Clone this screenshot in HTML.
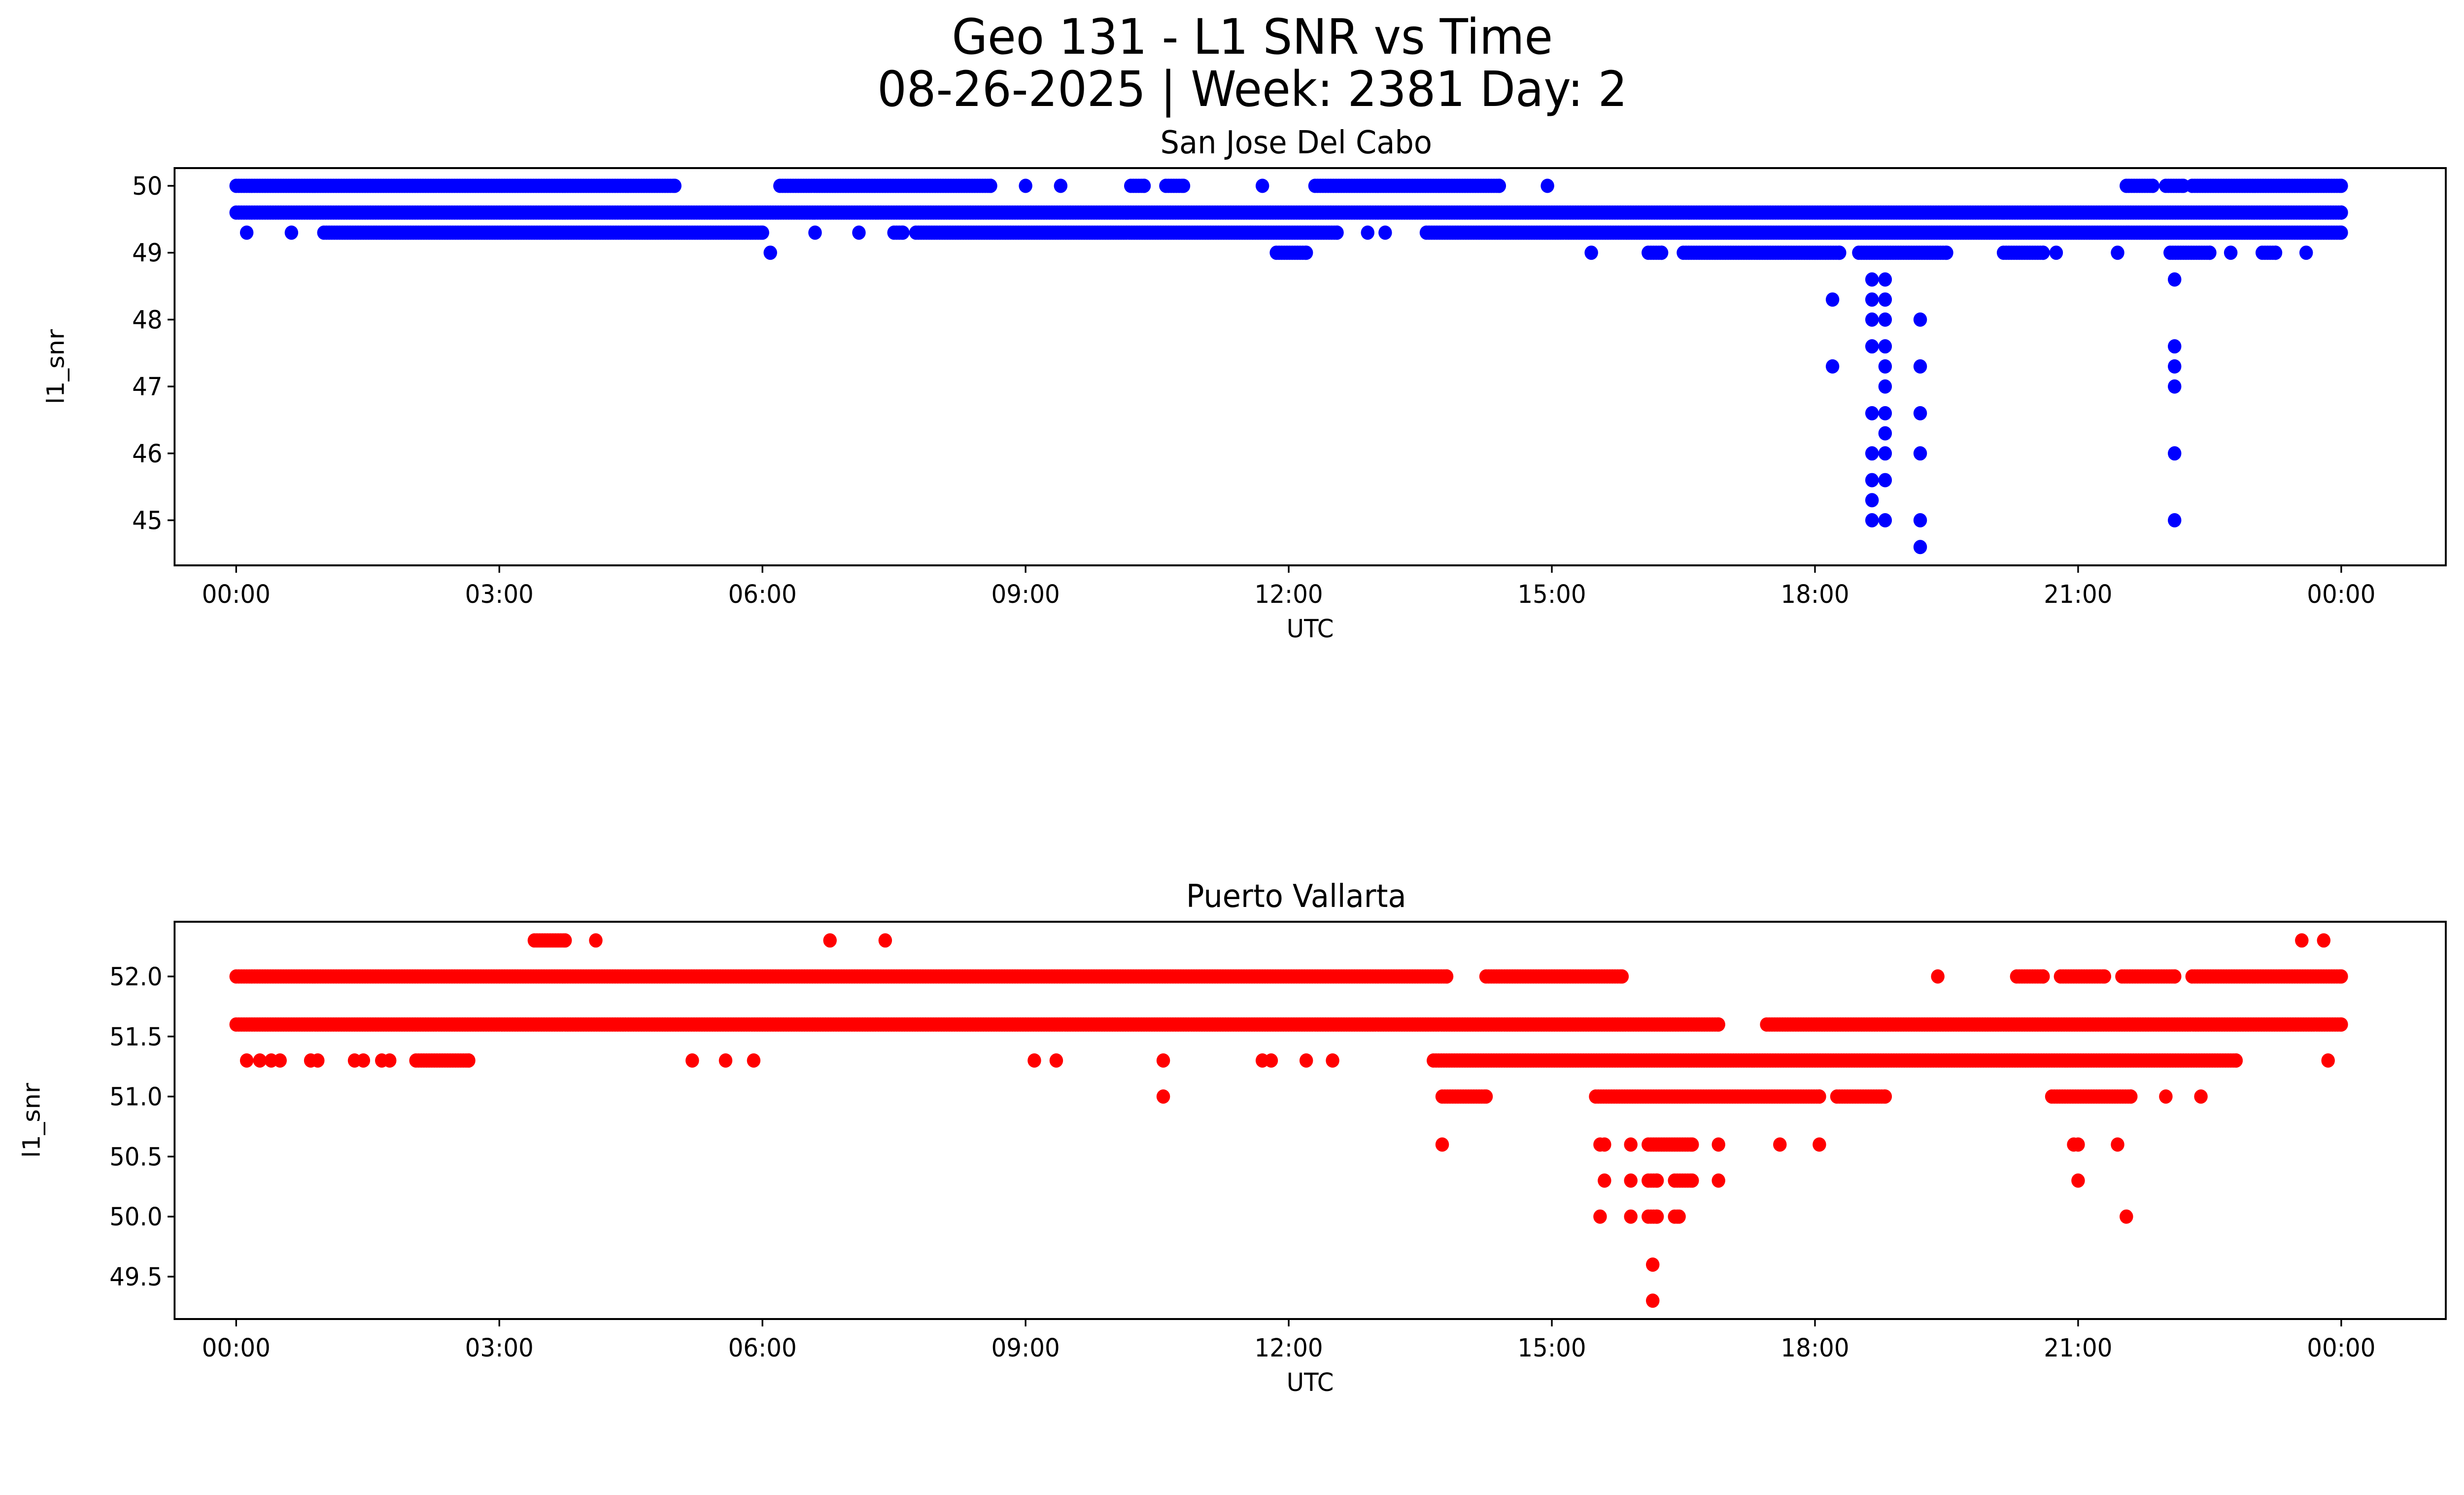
<!DOCTYPE html>
<html><head><meta charset="utf-8"><style>
html,body{margin:0;padding:0;background:#fff;overflow:hidden;width:100%;height:100%}
svg{display:block;font-family:"DejaVu Sans","Liberation Sans",sans-serif;width:100vw;height:100vh}
</style></head><body>
<svg id="fig" viewBox="0 0 5279 3033" preserveAspectRatio="none" xmlns="http://www.w3.org/2000/svg">
<rect width="5279" height="3033" fill="#fff"/>
<text x="2683" y="109" font-size="99" text-anchor="middle">Geo 131 - L1 SNR vs Time</text>
<text x="2683" y="215" font-size="99" text-anchor="middle">08-26-2025 | Week: 2381 Day: 2</text>
<g id="top"></g>
<g id="bot"></g>
</svg>
<script>
// ---- data (hours UTC, SNR) ----
const sjRuns = [[0,5.0,50],[6.2,8.6,50],[10.2,10.35,50],[10.6,10.8,50],[12.3,14.4,50],[21.55,21.85,50],[22.0,22.2,50],[22.3,24,50],
 [0,24,49.6],
 [1.0,6.0,49.3],[7.5,7.6,49.3],[7.75,12.55,49.3],[13.57,24,49.3],
 [11.86,12.2,49],[16.1,16.25,49],[16.5,18.28,49],[18.5,19.5,49],[20.15,20.6,49],[22.05,22.5,49],[23.1,23.25,49]];
const sjPoints = [[9.0,50],[9.4,50],[11.7,50],[14.95,50],[0.12,49.3],[0.63,49.3],[6.6,49.3],[7.1,49.3],[12.9,49.3],[13.1,49.3],
 [6.09,49],[15.45,49],[20.75,49],[21.45,49],[22.74,49],[23.6,49]];
const sjSpikeTimes = [18.2, 18.65, 18.8, 19.2, 22.1];
const sjSpikeValues = [[48.3,47.3],[48.6,48.3,48,47.6,46.6,46,45.6,45.3,45],[48.6,48.3,48,47.6,47.3,47,46.6,46.3,46,45.6,45],[48,47.3,46.6,46,45,44.6],[48.6,47.6,47.3,47,46,45]];
const pvRuns = [[0,13.8,52],[14.25,15.8,52],[20.3,20.6,52],[20.8,21.3,52],[21.5,22.1,52],[22.3,24,52],
 [0,16.9,51.6],[17.45,24,51.6],
 [3.4,3.75,52.3],
 [2.05,2.65,51.3],[13.65,22.8,51.3],
 [13.75,14.25,51],[15.5,18.05,51],[18.25,18.8,51],[20.7,21.6,51],
 [16.1,16.6,50.6],[16.1,16.2,50.3],[16.4,16.6,50.3],[16.1,16.2,50],[16.4,16.45,50]];
const pvPoints = [[19.4,52],[4.1,52.3],[6.77,52.3],[7.4,52.3],[23.55,52.3],[23.8,52.3],
 [0.12,51.3],[0.27,51.3],[0.4,51.3],[0.5,51.3],[0.85,51.3],[0.93,51.3],[1.35,51.3],[1.45,51.3],[1.66,51.3],[1.75,51.3],
 [5.2,51.3],[5.58,51.3],[5.9,51.3],[9.1,51.3],[9.35,51.3],[10.57,51.3],[11.7,51.3],[11.8,51.3],[12.2,51.3],[12.5,51.3],[23.85,51.3],
 [10.57,51],[22.0,51],[22.4,51],
 [13.75,50.6],[15.55,50.6],[15.6,50.6],[15.9,50.6],[16.9,50.6],[17.6,50.6],[18.05,50.6],[20.95,50.6],[21.0,50.6],[21.45,50.6],
 [15.6,50.3],[15.9,50.3],[16.9,50.3],[21.0,50.3],
 [15.55,50],[15.9,50],[21.55,50],[16.15,49.6],[16.15,49.3]];
const xTickHours = [0,3,6,9,12,15,18,21,24];
const xTickLabels = ["00:00","03:00","06:00","09:00","12:00","15:00","18:00","21:00","00:00"];
const sjYTicks = [45,46,47,48,49,50];
const sjYLabels = ["45","46","47","48","49","50"];
const pvYTicks = [49.5,50,50.5,51,51.5,52];
const pvYLabels = ["49.5","50.0","50.5","51.0","51.5","52.0"];

const NS="http://www.w3.org/2000/svg";
function mk(parent,tag,attrs){const e=document.createElementNS(NS,tag);for(const k in attrs)e.setAttribute(k,attrs[k]);parent.appendChild(e);return e;}

function panel(g,cfg){
  const L=374,R=5240,T=cfg.top,B=cfg.bottom;
  const x=h=>506+(5016-506)*h/24;
  const y=v=>cfg.y0+(v-cfg.v0)*cfg.k;
  const frame=mk(g,'rect',{x:L,y:T,width:R-L,height:B-T,fill:'none',stroke:'#000','stroke-width':4});
  
  
  const title=mk(g,'text',{x:(L+R)/2-30,y:T-30,'font-size':64,'text-anchor':'middle'});title.textContent=cfg.title;
  
  
  xTickHours.forEach((h,i)=>{
    mk(g,'line',{x1:x(h),x2:x(h),y1:B,y2:B+15,stroke:'#000','stroke-width':3.5});
    const t=mk(g,'text',{x:x(h),y:B+76,'font-size':51,'text-anchor':'middle'});t.textContent=xTickLabels[i];
    
    
  });
  cfg.yt.forEach((v,i)=>{
    mk(g,'line',{x1:L-15,x2:L,y1:y(v),y2:y(v),stroke:'#000','stroke-width':3.5});
    const t=mk(g,'text',{x:L-26,y:y(v)+18,'font-size':51,'text-anchor':'end'});t.textContent=cfg.yl[i];
    
    
  });
  const xl=mk(g,'text',{x:(L+R)/2,y:B+146,'font-size':51,'text-anchor':'middle'});xl.textContent='UTC';
  
  
  const yx=cfg.ylx, yy=(T+B)/2;
  const yl=mk(g,'text',{x:yx,y:yy,'font-size':51,'text-anchor':'middle',transform:`rotate(-90 ${yx} ${yy})`});yl.textContent='l1_snr';
  
  
  const pts=mk(g,'g',{fill:cfg.color});
  
  
  const dot=(h,v)=>{const c=mk(pts,'circle',{cx:x(h),cy:y(v),r:14.5});
    
    };
  cfg.runs.forEach(r=>{for(let h=r[0];h<=r[1]+1e-9;h+=0.03)dot(h,r[2]);dot(r[1],r[2]);});
  cfg.points.forEach(p=>dot(p[0],p[1]));
  if(cfg.spT)cfg.spT.forEach((t,i)=>cfg.spV[i].forEach(v=>dot(t,v)));
}
panel(document.getElementById('top'),{top:341,bottom:1147,y0:377,v0:50,k:-135.7,title:'San Jose Del Cabo',color:'#0000ff',
  yt:sjYTicks,yl:sjYLabels,ylx:137,runs:sjRuns,points:sjPoints,spT:sjSpikeTimes,spV:sjSpikeValues});
panel(document.getElementById('bot'),{top:1870,bottom:2676,y0:1981,v0:52,k:-243.6,title:'Puerto Vallarta',color:'#ff0000',
  yt:pvYTicks,yl:pvYLabels,ylx:85,runs:pvRuns,points:pvPoints});
</script>
</body></html>
